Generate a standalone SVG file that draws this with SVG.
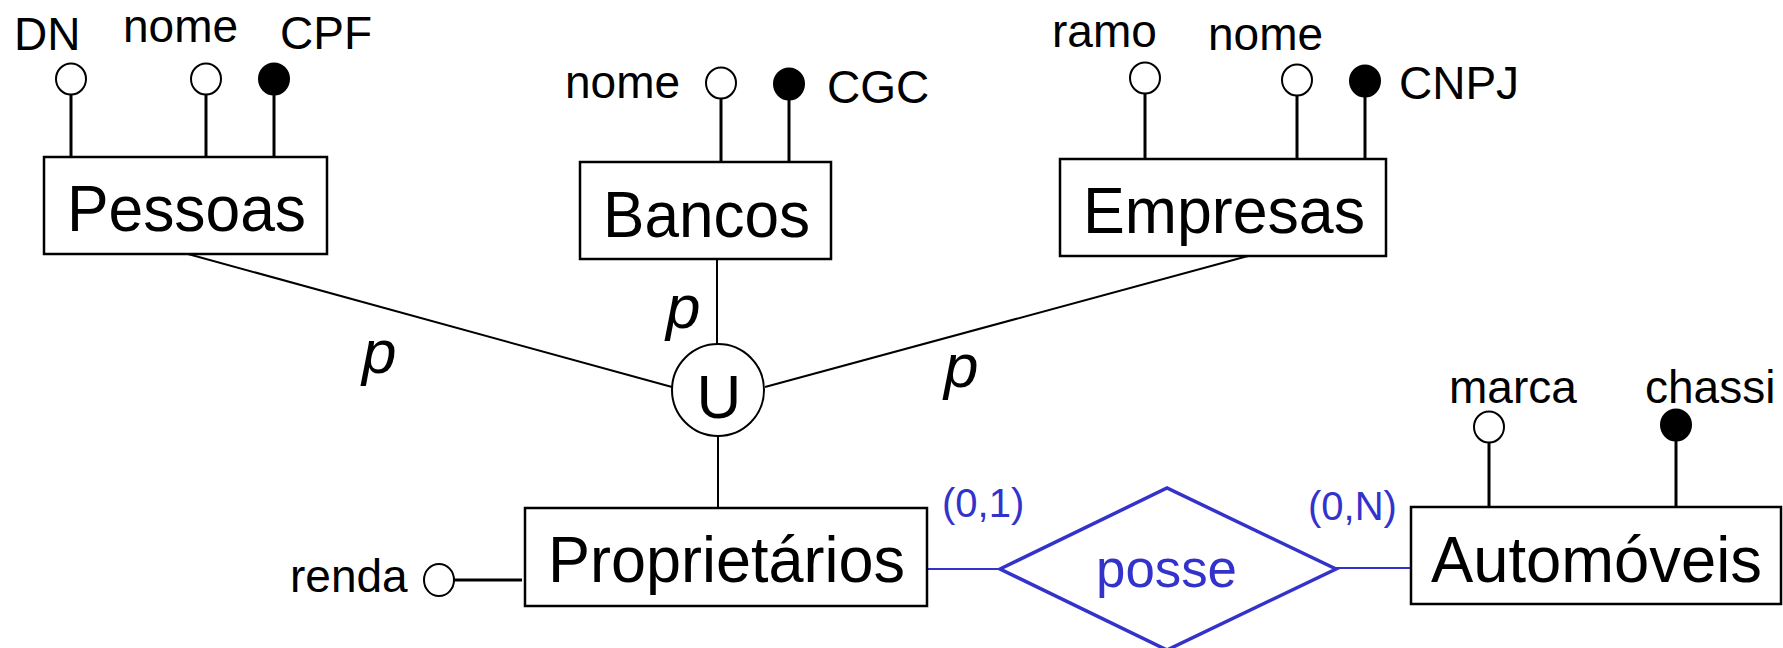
<svg xmlns="http://www.w3.org/2000/svg" width="1783" height="648" viewBox="0 0 1783 648">
<style>
text{font-family:"Liberation Sans",Arial,Helvetica,sans-serif;fill:#000}
.ent{font-size:65px}
.att{font-size:46px}
.p{font-size:62px;font-style:italic}
.blue{fill:#3333cc}
.box{fill:#fff;stroke:#000;stroke-width:2.5}
.al{stroke:#000;stroke-width:3}
.ao{fill:#fff;stroke:#000;stroke-width:2}
.af{fill:#000;stroke:#000;stroke-width:2}
.cn{stroke:#000;stroke-width:2;fill:none}
.bl{stroke:#3333cc;stroke-width:2;fill:none}
</style>
<g id="connectors">
<line class="cn" x1="188" y1="254" x2="672" y2="387"/>
<line class="cn" x1="717" y1="259" x2="717" y2="344"/>
<line class="cn" x1="1248" y1="256" x2="765" y2="387"/>
<line class="cn" x1="718" y1="436" x2="718" y2="508"/>
<line class="bl" x1="928" y1="569" x2="1000" y2="569"/>
<line class="bl" x1="1336" y1="568" x2="1411" y2="568"/>
<text class="p" x="362" y="373">p</text>
<text class="p" x="666" y="328">p</text>
<text class="p" x="944" y="387">p</text>
<text class="blue" x="942" y="517" font-size="40">(0,1)</text>
<text class="blue" x="1308" y="520" font-size="40">(0,N)</text>
</g>
<g id="pessoas">
<line class="al" x1="71" y1="94" x2="71" y2="158"/>
<line class="al" x1="206" y1="94" x2="206" y2="158"/>
<line class="al" x1="274" y1="94" x2="274" y2="158"/>
<ellipse class="ao" cx="71" cy="79" rx="15" ry="15.5"/>
<ellipse class="ao" cx="206" cy="79" rx="15" ry="15.5"/>
<ellipse class="af" cx="274" cy="79" rx="15" ry="15.5"/>
<text class="att" x="14" y="50">DN</text>
<text class="att" x="123" y="42">nome</text>
<text class="att" x="280" y="49">CPF</text>
<rect class="box" x="44" y="157" width="283" height="97"/>
<text class="ent" x="67" y="231" textLength="239" lengthAdjust="spacingAndGlyphs">Pessoas</text>
</g>
<g id="bancos">
<line class="al" x1="721" y1="98" x2="721" y2="163"/>
<line class="al" x1="789" y1="99" x2="789" y2="163"/>
<ellipse class="ao" cx="721" cy="83" rx="15" ry="15.5"/>
<ellipse class="af" cx="789" cy="84" rx="15" ry="15.5"/>
<text class="att" x="565" y="98">nome</text>
<text class="att" x="827" y="103">CGC</text>
<rect class="box" x="580" y="162" width="251" height="97"/>
<text class="ent" x="603" y="237" textLength="207" lengthAdjust="spacingAndGlyphs">Bancos</text>
</g>
<g id="empresas">
<line class="al" x1="1145" y1="93" x2="1145" y2="160"/>
<line class="al" x1="1297" y1="95" x2="1297" y2="160"/>
<line class="al" x1="1365" y1="96" x2="1365" y2="161"/>
<ellipse class="ao" cx="1145" cy="78" rx="15" ry="15.5"/>
<ellipse class="ao" cx="1297" cy="80" rx="15" ry="15.5"/>
<ellipse class="af" cx="1365" cy="81" rx="15" ry="15.5"/>
<text class="att" x="1052" y="47">ramo</text>
<text class="att" x="1208" y="50">nome</text>
<text class="att" x="1399" y="99">CNPJ</text>
<rect class="box" x="1060" y="159" width="326" height="97"/>
<text class="ent" x="1083" y="233" textLength="282" lengthAdjust="spacingAndGlyphs">Empresas</text>
</g>
<g id="uniao">
<circle cx="718" cy="390" r="46" fill="#fff" stroke="#000" stroke-width="2"/>
<text x="719" y="418" font-size="62" text-anchor="middle">U</text>
</g>
<g id="proprietarios">
<line class="al" x1="454" y1="580" x2="522" y2="580"/>
<ellipse class="ao" cx="439" cy="580" rx="15" ry="16"/>
<text class="att" x="290" y="592">renda</text>
<rect class="box" x="525" y="508" width="402" height="98"/>
<text class="ent" x="548" y="582" textLength="357" lengthAdjust="spacingAndGlyphs">Proprietários</text>
</g>
<g id="posse">
<polygon points="1000,569 1167,488 1336,569 1167,650" fill="#fff" stroke="#3333cc" stroke-width="3.5"/>
<text class="blue" x="1096" y="587" font-size="54" textLength="141" lengthAdjust="spacingAndGlyphs">posse</text>
</g>
<g id="automoveis">
<line class="al" x1="1489" y1="442" x2="1489" y2="508"/>
<line class="al" x1="1676" y1="440" x2="1676" y2="508"/>
<ellipse class="ao" cx="1489" cy="427" rx="15" ry="15.5"/>
<ellipse class="af" cx="1676" cy="425" rx="15" ry="15.5"/>
<text class="att" x="1449" y="403">marca</text>
<text class="att" x="1645" y="403">chassi</text>
<rect class="box" x="1411" y="507" width="370" height="97"/>
<text class="ent" x="1431" y="582" textLength="331" lengthAdjust="spacingAndGlyphs">Automóveis</text>
</g>
</svg>
